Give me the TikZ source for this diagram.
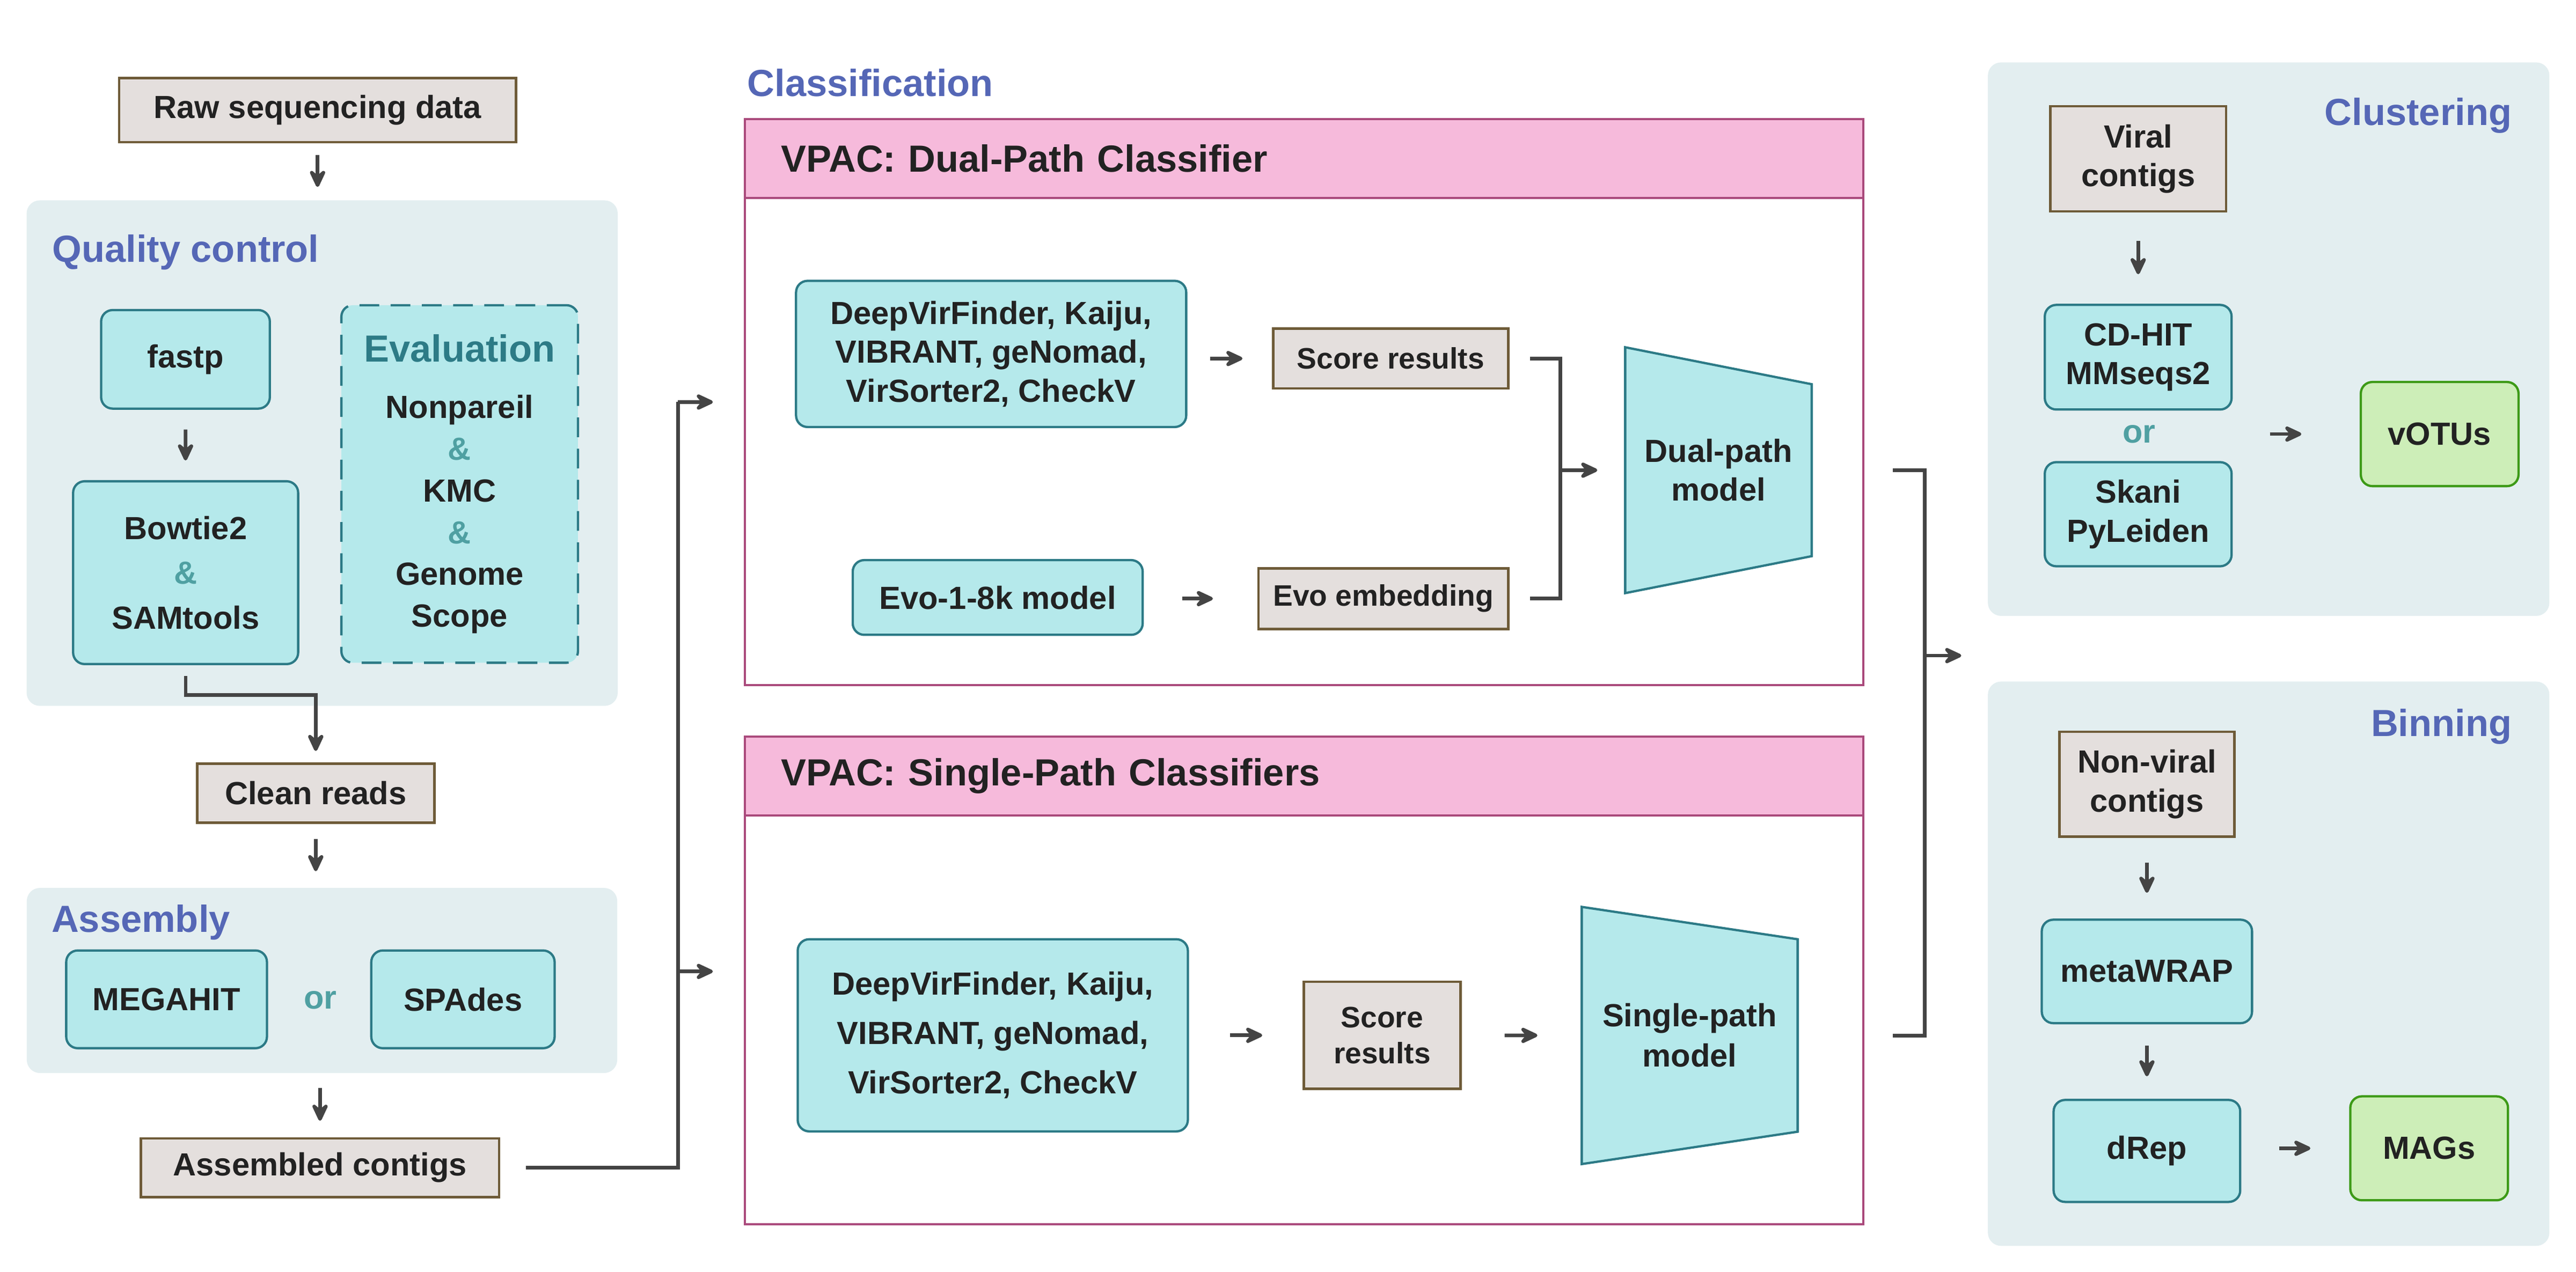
\documentclass[tikz,border=0pt]{standalone}
\usepackage{fontspec}
\setmainfont{Liberation Sans}
\usepackage{xcolor}
\usepackage{tikz}
\usetikzlibrary{shapes.geometric, arrows.meta, positioning, fit, backgrounds, calc}

\definecolor{panelbg}{HTML}{E3EEF0}
\definecolor{titleblue}{HTML}{5567B6}
\definecolor{toolfill}{HTML}{B5E9EB}
\definecolor{toolline}{HTML}{2C7A86}
\definecolor{datafill}{HTML}{E4DFDD}
\definecolor{databrown}{HTML}{6E5B38}
\definecolor{vpacfill}{HTML}{F6BADB}
\definecolor{vpacline}{HTML}{AA4A7C}
\definecolor{resfill}{HTML}{CDEEB8}
\definecolor{resline}{HTML}{3D9A17}
\definecolor{arrowgray}{HTML}{444444}
\definecolor{ampteal}{HTML}{4FA0A2}
\definecolor{evalteal}{HTML}{2D7B86}
\definecolor{inkdark}{HTML}{222222}

\newcommand{\andsign}{{\color{ampteal}\&}}

\begin{document}
\begin{tikzpicture}[
    x=1pt, y=-1pt,
    panel/.style={rectangle, rounded corners=8pt, fill=panelbg, draw=none},
    tool/.style={rectangle, rounded corners=7pt, draw=toolline, line width=1.4pt, fill=toolfill, align=center, inner sep=0pt, text=inkdark, font=\fontsize{19.5}{23.7}\selectfont\bfseries},
    data/.style={rectangle, draw=databrown, line width=1.5pt, fill=datafill, align=center, inner sep=0pt, text=inkdark, font=\fontsize{19.5}{23.7}\selectfont\bfseries},
    result/.style={tool, draw=resline, fill=resfill},
    frame/.style={rectangle, draw=vpacline, line width=1.3pt, inner sep=0pt},
    head/.style={rectangle, draw=vpacline, fill=vpacfill, line width=1.3pt, align=left, text width=636.7pt, inner xsep=21.9pt, inner ysep=0pt, minimum height=48pt, text=inkdark, font=\fontsize{23}{27}\selectfont\bfseries},
    title/.style={inner sep=0pt, text=titleblue, font=\fontsize{23}{27}\selectfont\bfseries},
    orword/.style={inner sep=0pt, text=ampteal, font=\fontsize{20}{24}\selectfont\bfseries},
    model/.style={inner sep=0pt, align=center, text=inkdark, font=\fontsize{19.5}{23.5}\selectfont\bfseries},
    modelshape/.style={fill=toolfill, draw=toolline, line width=1.4pt},
    arrow/.style={-{Stealth[length=14pt, width=13pt, inset=5.5pt, round]}, line width=2.2pt, draw=arrowgray},
    line/.style={line width=2.2pt, draw=arrowgray}
]
\useasboundingbox (0,0) rectangle (1568,774.2);

% Panels
\node[panel, minimum width=359.8pt, minimum height=307.8pt] (qc) at (196.1,275.9) {};
\node[panel, minimum width=359.4pt, minimum height=112.7pt] (asm) at (196,597) {};
\node[panel, minimum width=341.8pt, minimum height=337pt] (clust) at (1380.9,206.5) {};
\node[panel, minimum width=341.8pt, minimum height=343.6pt] (bin) at (1380.9,586.8) {};

% Panel titles
\node[title, anchor=west] (qctitle) at (31.7,153.5) {Quality control};
\node[title, anchor=west] (asmtitle) at (31.2,561.5) {Assembly};
\node[title, anchor=west] (classtitle) at (454.8,50.5) {Classification};
\node[title, anchor=east] (clusttitle) at (1529,70.5) {Clustering};
\node[title, anchor=east] (bintitle) at (1529,442.5) {Binning};

% Preprocessing
\node[data, minimum width=241.5pt, minimum height=39pt] (raw) at (193.3,67) {Raw sequencing data};
\node[tool, minimum width=102.7pt, minimum height=60pt] (fastp) at (112.9,218.8) {fastp};
\node[tool, minimum width=137pt, minimum height=111.3pt, font=\fontsize{19.5}{27.2}\selectfont\bfseries] (bowtie) at (113,348.7) {Bowtie2\\\andsign\\SAMtools};
\node[tool, dashed, dash pattern=on 12pt off 7pt, minimum width=144pt, minimum height=217.7pt, font=\fontsize{19.5}{25.4}\selectfont\bfseries] (eval) at (279.8,294.7)
    {{\fontsize{23}{27}\selectfont\color{evalteal}Evaluation}\\[9pt]Nonpareil\\\andsign\\KMC\\\andsign\\Genome\\Scope};
\node[data, minimum width=144.3pt, minimum height=36pt] (clean) at (192.2,483) {Clean reads};
\node[tool, minimum width=122.2pt, minimum height=59.5pt] (megahit) at (101.4,608.5) {MEGAHIT};
\node[orword] (or1) at (194.9,609) {or};
\node[tool, minimum width=111.6pt, minimum height=59.5pt] (spades) at (281.8,608.5) {SPAdes};
\node[data, minimum width=218pt, minimum height=35.7pt] (asmc) at (194.8,711) {Assembled contigs};

% Dual-path classifier
\node[frame, minimum width=680.5pt, minimum height=344.4pt] (dualframe) at (793.8,244.8) {};
\node[head] (dualhead) at (793.8,96.6) {VPAC: Dual-Path Classifier};
\node[tool, minimum width=237.5pt, minimum height=89pt] (dualtools) at (603.3,215.5) {DeepVirFinder, Kaiju,\\VIBRANT, geNomad,\\VirSorter2, CheckV};
\node[data, minimum width=143pt, minimum height=36.5pt, font=\fontsize{18}{22}\selectfont\bfseries] (score1) at (846.5,218.3) {Score results};
\node[tool, minimum width=176.5pt, minimum height=45.5pt] (evomodel) at (607.3,363.8) {Evo-1-8k model};
\node[data, minimum width=152pt, minimum height=37pt, font=\fontsize{18}{22}\selectfont\bfseries] (evoemb) at (842,364.5) {Evo embedding};
\node[model, minimum width=113.1pt, minimum height=149.3pt] (dual) at (1046,286.3) {Dual-path\\model};
\coordinate (join1) at (949.8,286.3);

% Single-path classifiers
\node[frame, minimum width=680.5pt, minimum height=296.7pt] (singleframe) at (793.8,597) {};
\node[head] (singlehead) at (793.8,472.6) {VPAC: Single-Path Classifiers};
\node[tool, minimum width=237.5pt, minimum height=117pt, font=\fontsize{19.5}{30}\selectfont\bfseries] (singletools) at (604.3,630.4) {DeepVirFinder, Kaiju,\\VIBRANT, geNomad,\\VirSorter2, CheckV};
\node[data, minimum width=95.5pt, minimum height=65.3pt, font=\fontsize{18}{22}\selectfont\bfseries] (score2) at (841.3,630.4) {Score\\results};
\node[model, minimum width=131pt, minimum height=156.2pt, font=\fontsize{19.5}{24.5}\selectfont\bfseries] (single) at (1028.5,630.5) {Single-path\\model};

% Clustering
\node[data, minimum width=107pt, minimum height=64pt] (viral) at (1301.5,96.7) {Viral\\contigs};
\node[tool, minimum width=113.7pt, minimum height=63.7pt] (cdhit) at (1301.5,217.5) {CD-HIT\\MMseqs2};
\node[orword] (or2) at (1302,264.3) {or};
\node[tool, minimum width=113.7pt, minimum height=63.4pt] (skani) at (1301.5,313.1) {Skani\\PyLeiden};
\node[result, minimum width=96pt, minimum height=63.4pt] (votus) at (1485,264.3) {vOTUs};

% Binning
\node[data, minimum width=106.5pt, minimum height=63.8pt] (nonviral) at (1306.8,477.5) {Non-viral\\contigs};
\node[tool, minimum width=128pt, minimum height=63pt] (metawrap) at (1306.8,591.5) {metaWRAP};
\node[tool, minimum width=113.6pt, minimum height=62.1pt] (drep) at (1306.8,700.8) {dRep};
\node[result, minimum width=96pt, minimum height=63.3pt] (mags) at (1478.6,699.2) {MAGs};

% Model shapes
\begin{scope}[on background layer]
\draw[modelshape] (dual.north west) -- ($(dual.north east)+(0,22.5)$) -- ($(dual.south east)+(0,-22.5)$) -- (dual.south west) -- cycle;
\draw[modelshape] (single.north west) -- ($(single.north east)+(0,19.7)$) -- ($(single.south east)+(0,-19.7)$) -- (single.south west) -- cycle;
\end{scope}

% Flows on the left
\coordinate (qcturn) at (192.2,423.3);
\draw[arrow, shorten <=7pt, shorten >=8pt] (raw.south) -- (raw.south |- qc.north);
\draw[arrow, shorten <=12pt, shorten >=12pt] (fastp) -- (bowtie);
\draw[arrow, shorten <=6.5pt, shorten >=7pt] (bowtie.south) |- (qcturn) -- (clean.north);
\draw[arrow, shorten <=9pt, shorten >=10pt] (clean.south) -- (clean.south |- asm.north);
\draw[arrow, shorten <=9pt, shorten >=10pt] (asm.south -| asmc.north) -- (asmc.north);

% Contigs to classifiers
\coordinate (todual) at (412.7,244.8);
\coordinate (tosingle) at (412.7,591.5);
\draw[line] ($(asmc.east)+(15.5,0)$) -| (todual);
\draw[arrow, shorten >=19pt] (todual) -- (todual -| dualframe.west);
\draw[arrow, shorten >=19pt] (tosingle) -- (tosingle -| singleframe.west);

% Flows inside the classifiers
\draw[arrow, shorten <=14pt, shorten >=18pt] (dualtools.east |- score1) -- (score1);
\draw[arrow, shorten <=23.5pt, shorten >=27pt] (evomodel.east |- evoemb) -- (evoemb);
\draw[line] ($(score1.east)+(12.5,0)$) -| (join1) |- ($(evoemb.east)+(12.5,0)$);
\draw[arrow, shorten >=17pt] (join1) -- (dual);
\draw[arrow, shorten <=25pt, shorten >=24.5pt] (singletools) -- (score2);
\draw[arrow, shorten <=26pt, shorten >=27pt] (score2) -- (single);

% Classifiers to downstream
\coordinate (outjoin) at (1171.5,399.2);
\draw[line] ($(dualframe.east |- dual)+(17.5,0)$) -| (outjoin) |- ($(singleframe.east |- single)+(17.5,0)$);
\draw[arrow, shorten >=16pt] (outjoin) -- (outjoin -| clust.west);

% Flows on the right
\draw[arrow, shorten <=17.3pt, shorten >=18pt] (viral) -- (viral |- cdhit.north);
\draw[arrow, shorten <=22.6pt, shorten >=35.5pt] (cdhit.east |- votus) -- (votus);
\draw[arrow, shorten <=15pt, shorten >=15.7pt] (nonviral) -- (metawrap);
\draw[arrow, shorten <=13pt, shorten >=13.7pt] (metawrap) -- (drep);
\draw[arrow, shorten <=23pt, shorten >=23.6pt] (drep.east |- mags) -- (mags);

\end{tikzpicture}
\end{document}
